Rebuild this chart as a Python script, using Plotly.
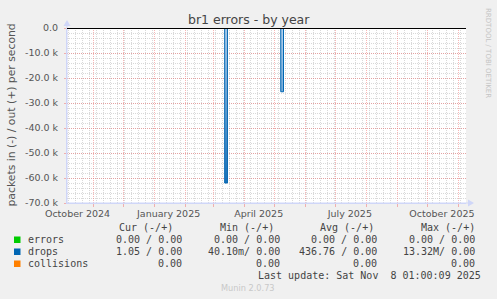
import plotly.graph_objects as go

# ---------------- data ----------------
drops_dates = ["2024-10-04", "2025-03-12", "2025-03-14 18:00", "2025-05-07", "2025-05-09 18:00", "2025-11-08 01:00"]
drops_vals = [0, -62000, 0, -25500, 0, 0]
errors_dates = ["2024-10-04", "2025-11-08 01:00"]
errors_vals = [0, 0]
collisions_dates = ["2024-10-04", "2025-11-08 01:00"]
collisions_vals = [0, 0]

x_label_dates = ["2024-10-16", "2025-01-15", "2025-04-15", "2025-07-15", "2025-10-15"]
x_label_text = ["October 2024", "January 2025", "April 2025", "July 2025", "October 2025"]
y_tick_vals = [0, -10000, -20000, -30000, -40000, -50000, -60000, -70000]
y_tick_text = ["0.0", "-10.0 k", "-20.0 k", "-30.0 k", "-40.0 k", "-50.0 k", "-60.0 k", "-70.0 k"]

legend_names = ["errors", "drops", "collisions"]
legend_colors = ["#00cc00", "#0066b3", "#ff8000"]
col_headers = ["Cur (-/+)", "Min (-/+)", "Avg (-/+)", "Max (-/+)"]
cur_col = ["0.00 / 0.00", "1.05 / 0.00", "0.00"]
min_col = ["0.00 / 0.00", "40.10m/ 0.00", "0.00"]
avg_col = ["0.00 / 0.00", "436.76 / 0.00", "0.00"]
max_col = ["0.00 / 0.00", "13.32M/ 0.00", "0.00"]
last_update = "Last update: Sat Nov  8 01:00:09 2025"

# ---------------- layout geometry ----------------
FW, FH = 497, 299
L, R, T, B = 67, 466, 28, 203
W, H = R - L, B - T

def px(x):
    return (x - L) / W

def py(y):
    return (B - y) / H

x_range = ["2024-10-05 12:00", "2025-11-08 01:00"]

fig = go.Figure()
fig.add_trace(go.Scatter(x=errors_dates, y=errors_vals, mode="lines", line=dict(color="#00cc00", width=1),
                         showlegend=False, hoverinfo="skip", xaxis="x2"))
fig.add_trace(go.Scatter(x=collisions_dates, y=collisions_vals, mode="lines", line=dict(color="#ff8000", width=1),
                         showlegend=False, hoverinfo="skip"))
fig.add_trace(go.Scatter(x=drops_dates, y=drops_vals, mode="lines", line=dict(color="#0066b3", width=1, shape="hv"),
                         fill="tozeroy",
                         fillgradient=dict(type="vertical", colorscale=[[0, "#1a72b8"], [1, "#b5d3ee"]]),
                         showlegend=False, hoverinfo="skip"))

MAJ = "rgba(240,110,110,0.5)"
MIN = "rgba(165,165,165,0.42)"
AX = "#cfd6f8"

fig.update_layout(
    width=FW, height=FH,
    margin=dict(l=L, r=FW - R, t=T, b=FH - B),
    paper_bgcolor="#f0f0f0", plot_bgcolor="#ffffff",
    showlegend=False,
    xaxis=dict(type="date", range=x_range, tickmode="linear", tick0="2024-11-01", dtick="M1",
               showgrid=True, gridcolor=MAJ, griddash="1px,1px", gridwidth=1,
               showticklabels=False, ticks="outside", ticklen=3, tickcolor=MAJ,
               minor=dict(tick0="2024-10-07", dtick=7 * 86400000, showgrid=True, gridcolor=MIN,
                          griddash="1px,1px", gridwidth=1),
               showline=True, linecolor=AX, linewidth=1, zeroline=False, fixedrange=True),
    xaxis2=dict(type="date", range=x_range, overlaying="x", side="bottom", tickmode="array",
                tickvals=x_label_dates, ticktext=x_label_text, showgrid=False, ticks="",
                tickfont=dict(family="DejaVu Sans", size=9.5, color="#555555"), ticklabelstandoff=3,
                showline=False, zeroline=False),
    yaxis=dict(range=[-70000, 0], tickmode="array", tickvals=y_tick_vals, ticktext=y_tick_text,
               showgrid=True, gridcolor=MAJ, griddash="1px,1px", gridwidth=1,
               minor=dict(dtick=2000, tick0=0, showgrid=True, gridcolor=MIN, griddash="1px,1px", gridwidth=1),
               ticks="outside", ticklen=2, tickcolor=MAJ,
               tickfont=dict(family="DejaVu Sans", size=9.5, color="#555555"), ticklabelstandoff=4,
               showline=True, linecolor=AX, linewidth=1, zeroline=False, fixedrange=True),
)

shapes = []
# axis lines and arrows
shapes.append(dict(type="line", xref="paper", yref="paper", x0=px(L), x1=px(L), y0=py(B), y1=py(22),
                   line=dict(color=AX, width=1)))
shapes.append(dict(type="path", xref="paper", yref="paper",
                   path=f"M {px(63.5)} {py(26)} L {px(70.5)} {py(26)} L {px(67)} {py(20)} Z",
                   fillcolor=AX, line=dict(width=0)))
shapes.append(dict(type="line", xref="paper", yref="paper", x0=px(L), x1=px(469), y0=py(B), y1=py(B),
                   line=dict(color=AX, width=1)))
shapes.append(dict(type="path", xref="paper", yref="paper",
                   path=f"M {px(468)} {py(199.5)} L {px(468)} {py(206.5)} L {px(474)} {py(203)} Z",
                   fillcolor=AX, line=dict(width=0)))
# zero rule (top of plot)
shapes.append(dict(type="line", xref="paper", yref="paper", x0=0, x1=1, y0=py(28.5), y1=py(28.5),
                   line=dict(color="#000000", width=1), layer="above"))
# legend squares
row_y = [239.7, 251.7, 263.7]
for c, yy in zip(legend_colors, row_y):
    shapes.append(dict(type="rect", xref="paper", yref="paper", x0=px(14), x1=px(20.5),
                       y0=py(yy + 3.3), y1=py(yy - 3.2), fillcolor=c, line=dict(width=0)))
fig.update_layout(shapes=shapes)

ann = []
TXT = "#444444"
ann.append(dict(text="br1 errors - by year", x=px(248.5), y=py(19), xref="paper", yref="paper",
                showarrow=False, xanchor="center", yanchor="middle",
                font=dict(family="DejaVu Sans", size=12.5, color="#444444")))
ann.append(dict(text="packets in (-) / out (+) per second", x=px(10.5), y=py(115), xref="paper", yref="paper",
                showarrow=False, xanchor="center", yanchor="middle", textangle=-90,
                font=dict(family="DejaVu Sans", size=10.8, color="#555555")))
ann.append(dict(text="RRDTOOL / TOBI OETIKER", x=px(488), y=py(53), xref="paper", yref="paper",
                showarrow=False, xanchor="center", yanchor="middle", textangle=90,
                font=dict(family="DejaVu Sans", size=7, color="#c4c4c4")))
ann.append(dict(text="Munin 2.0.73", x=px(248), y=py(288.3), xref="paper", yref="paper",
                showarrow=False, xanchor="center", yanchor="middle",
                font=dict(family="DejaVu Sans", size=8.2, color="#c8c8c8")))

MONO = dict(family="DejaVu Sans Mono", size=10, color=TXT)
header_right = [174.5, 275.5, 375.5, 476.5]
for h, xr in zip(col_headers, header_right):
    ann.append(dict(text=h, x=px(xr), y=py(227.5), xref="paper", yref="paper", showarrow=False,
                    xanchor="right", yanchor="middle", font=MONO))
col_right = [184, 282, 378.5, 477]
for i, name in enumerate(legend_names):
    ann.append(dict(text=name, x=px(25.5), y=py(row_y[i]), xref="paper", yref="paper", showarrow=False,
                    xanchor="left", yanchor="middle", font=MONO))
    for col, xr in zip([cur_col, min_col, avg_col, max_col], col_right):
        ann.append(dict(text=col[i].replace(" ", "&nbsp;"), x=px(xr), y=py(row_y[i]), xref="paper", yref="paper",
                        showarrow=False, xanchor="right", yanchor="middle", font=MONO))
ann.append(dict(text=last_update.replace(" ", "&nbsp;"), x=px(482.5), y=py(275.5), xref="paper", yref="paper",
                showarrow=False, xanchor="right", yanchor="middle", font=MONO))
fig.update_layout(annotations=ann)

fig.write_html("out.html", config={"displayModeBar": False})
